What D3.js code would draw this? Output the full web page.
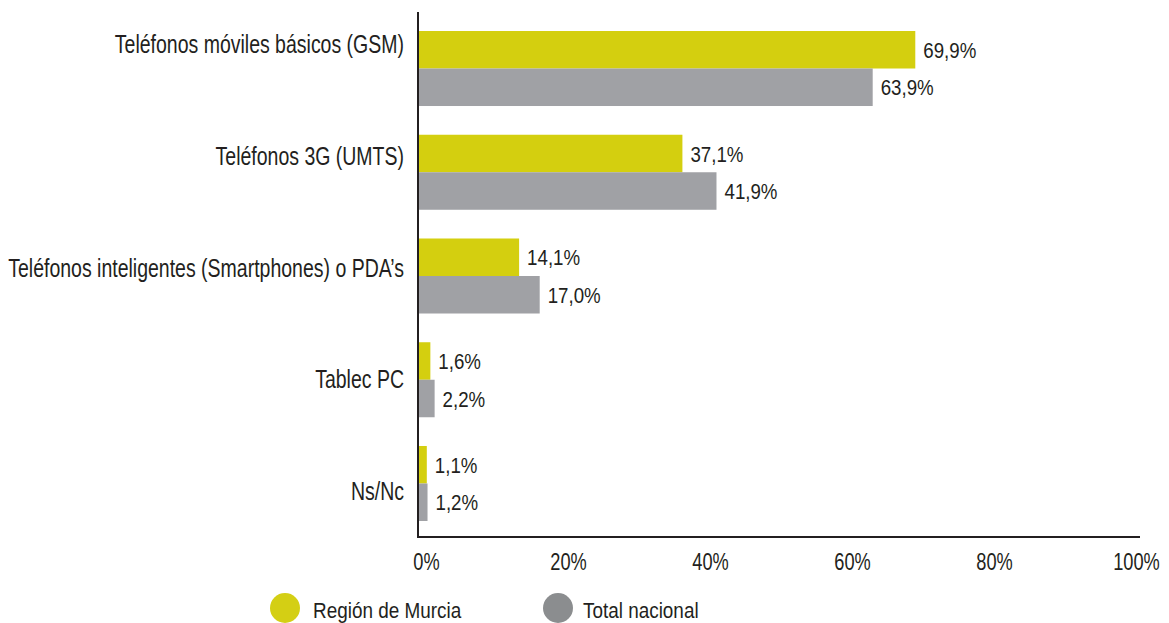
<!DOCTYPE html>
<html>
<head>
<meta charset="utf-8">
<script src="https://cdn.jsdelivr.net/npm/d3@7"></script>
<style>
    body { margin: 0; background: #fff; }
    text { font-family: "Liberation Sans", Arial, sans-serif; fill: #231f20; }
    .catlab { font-size: 25px; }
    .vallab { font-size: 22px; }
    .xaxis text { font-size: 24px; }
    .leglab { font-size: 22px; }
</style>
</head>
<body>
<div id="chart"></div>
<script>

// data
var categories = ["Teléfonos móviles básicos (GSM)", "Teléfonos 3G (UMTS)",
    "Teléfonos inteligentes (Smartphones) o PDA’s", "Tablec PC", "Ns/Nc"];
var seriesNames = ["Región de Murcia", "Total nacional"];
var murcia = [69.9, 37.1, 14.1, 1.6, 1.1];
var nacional = [63.9, 41.9, 17.0, 2.2, 1.2];
var xticks = [0, 20, 40, 60, 80, 100];

// settings
var cfg = {
    w: 1169, h: 623,
    x0: 419, x1: 1129, // 0% and 100%
    axisEnd: 1140, // x axis line end
    yTop: 12, yBottom: 537, // axis line extent
    bandTop: 31, bandBottom: 521,
    labTop: 53, labBottom: 500, // category label baselines
    color: ["#d4cf0f", "#a0a1a5"],
    legcolor: ["#d4cf14", "#8b8d8f"],
    narrow: 0.78, // horizontal squeeze to mimic a condensed face
    narrowTick: 0.76,
    narrowVal: 0.85,
    narrowLeg: 0.86
};

// place text at (x, y) squeezed horizontally
function place(x, y, s) {
    return "translate(" + x + "," + y + ") scale(" + s + ",1)";
}

var svg = d3.select("#chart").append("svg")
        .attr("width", cfg.w).attr("height", cfg.h);

// scales
var xscale = d3.scaleLinear().domain([0, 100]).range([cfg.x0, cfg.x1]);
var yscale = d3.scaleBand().domain(categories)
        .range([cfg.bandTop, cfg.bandBottom]).paddingInner(0.277).paddingOuter(0);
var subscale = d3.scaleBand().domain(seriesNames).range([0, yscale.bandwidth()]);
var labscale = d3.scalePoint().domain(categories).range([cfg.labTop, cfg.labBottom]);

var rows = [];
categories.forEach(function (c, i) {
    rows.push({cat: c, series: seriesNames[0], value: murcia[i], color: cfg.color[0]});
    rows.push({cat: c, series: seriesNames[1], value: nacional[i], color: cfg.color[1]});
});

// bars
svg.selectAll(".bar").data(rows).enter().append("rect")
        .attr("class", "bar")
        .attr("fill", function (d) { return d.color; })
        .attr("x", xscale(0))
        .attr("width", function (d) { return xscale(d.value) - xscale(0); })
        .attr("y", function (d) { return yscale(d.cat) + subscale(d.series); })
        .attr("height", subscale.bandwidth());

// value labels
svg.selectAll(".vallab").data(rows).enter().append("text")
        .attr("class", "vallab")
        .attr("transform", function (d) {
            return place(xscale(d.value) + 8,
                    yscale(d.cat) + subscale(d.series) + subscale.bandwidth() / 2 + 8,
                    cfg.narrowVal);
        })
        .text(function (d) { return d3.format(".1f")(d.value).replace(".", ",") + "%"; });

// category labels
svg.selectAll(".catlab").data(categories).enter().append("text")
        .attr("class", "catlab")
        .attr("text-anchor", "end")
        .attr("transform", function (d) { return place(404, labscale(d), cfg.narrow); })
        .text(function (d) { return d; });

// x axis
var xaxis = d3.axisBottom(xscale).tickValues(xticks).tickSize(0).tickPadding(0)
        .tickFormat(function (d) { return d + "%"; });
var gg = svg.append("g").attr("class", "xaxis")
        .attr("transform", "translate(0," + cfg.yBottom + ")").call(xaxis);
gg.selectAll("path.domain").attr("d", "M" + (cfg.x0 - 2) + ",0H" + cfg.axisEnd)
        .attr("stroke", "#231f20").attr("stroke-width", 2);
gg.selectAll(".tick text").attr("y", 0).attr("dy", 0)
        .attr("transform", place(7, 33, cfg.narrowTick))
        .attr("fill", "#231f20");

// y axis line
svg.append("line")
        .attr("x1", cfg.x0 - 1).attr("x2", cfg.x0 - 1)
        .attr("y1", cfg.yTop).attr("y2", cfg.yBottom)
        .attr("stroke", "#231f20").attr("stroke-width", 2);

// legend
var legx = [285, 558];
var leg = svg.selectAll(".leg").data(seriesNames).enter().append("g")
        .attr("class", "leg")
        .attr("transform", function (d, i) { return "translate(" + legx[i] + ",608)"; });
leg.append("circle").attr("r", 15)
        .attr("fill", function (d, i) { return cfg.legcolor[i]; });
leg.append("text").attr("class", "leglab")
        .attr("transform", function (d, i) { return place(i === 0 ? 28 : 25, 10, cfg.narrowLeg); })
        .text(function (d) { return d; });

</script>
</body>
</html>
